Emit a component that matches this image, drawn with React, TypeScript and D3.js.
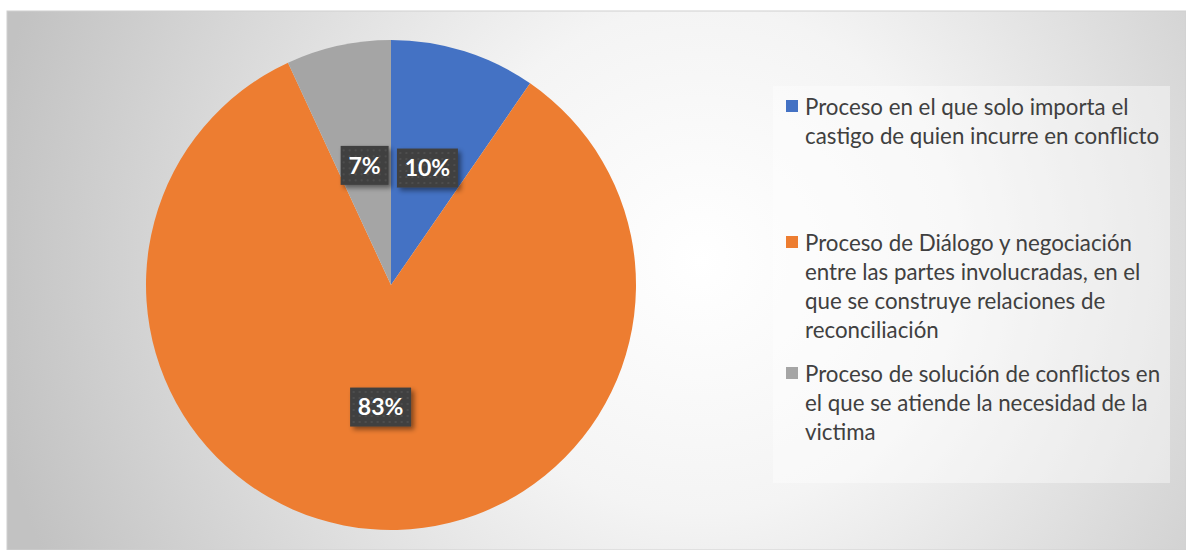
import React from "react"
import * as d3 from "d3"

const categories = [
  "Proceso en el que solo importa el castigo de quien incurre en conflicto",
  "Proceso de Diálogo y negociación entre las partes involucradas, en el que se construye relaciones de reconciliación",
  "Proceso de solución de conflictos en el que se atiende la necesidad de la victima",
]
const values = [9.6, 83.4, 6.9]
const colors = ["#4472C4", "#ED7D31", "#A5A5A5"]
// legend lines as they wrap in the original
const legendLines = [
  ["Proceso en el que solo importa el", "castigo de quien incurre en conflicto"],
  ["Proceso de Diálogo y negociación", "entre las partes involucradas, en el", "que se construye relaciones de", "reconciliación"],
  ["Proceso de solución de conflictos en", "el que se atiende la necesidad de la", "victima"],
]
const legendTops = [107, 243, 374]

export default function App() {
  const W = 1186
  const H = 550
  const cx = 391
  const cy = 285
  const R = 245

  const total = d3.sum(values)
  const pie = d3.pie<number>().sort(null).value(d => d)
  const arcs = pie(values)
  const arc = d3.arc<d3.PieArcDatum<number>>().innerRadius(0).outerRadius(R)
  const labelArc = d3.arc<d3.PieArcDatum<number>>().innerRadius(R * 0.5).outerRadius(R * 0.5)

  const font = "Lato, 'Open Sans', sans-serif"

  return (
    <svg width={W} height={H} style={{ position: "absolute", left: 0, top: 0 }}>
      <defs>
        <radialGradient id="bg" cx="700" cy="260" r="720" gradientUnits="userSpaceOnUse">
          <stop offset="0" stopColor="#ffffff" />
          <stop offset="0.35" stopColor="#f4f4f4" />
          <stop offset="1" stopColor="#c2c2c2" />
        </radialGradient>
        <pattern id="dots" width="6" height="6" patternUnits="userSpaceOnUse">
          <rect width="6" height="6" fill="#3f3f3f" />
          <rect x="2" y="2" width="2" height="2" fill="#4e4e4e" />
        </pattern>
        <filter id="shadow" x="-30%" y="-30%" width="160%" height="160%">
          <feDropShadow dx="3" dy="3" stdDeviation="2.5" floodColor="#000" floodOpacity="0.45" />
        </filter>
      </defs>
      <rect x={7} y={11} width={W - 7} height={H - 11} fill="url(#bg)" stroke="#d0d0d0" strokeWidth={1} />

      <g transform={`translate(${cx},${cy})`}>
        {arcs.map((a, i) => (
          <path key={i} d={arc(a) || ""} fill={colors[i]} />
        ))}
        {arcs.map((a, i) => {
          const [lx, ly] = labelArc.centroid(a)
          const txt = `${Math.round((a.data / total) * 100)}%`
          const bw = txt.length * 13 + 22
          const bh = 39
          return (
            <g key={"l" + i} transform={`translate(${lx},${ly})`}>
              <rect x={-bw / 2} y={-bh / 2} width={bw} height={bh} fill="url(#dots)" filter="url(#shadow)" />
              <text
                textAnchor="middle"
                dy="0.36em"
                fill="#ffffff"
                fontFamily={font}
                fontWeight="bold"
                fontSize={23}
              >
                {txt}
              </text>
            </g>
          )
        })}
      </g>

      <rect x={773} y={86} width={397} height={397} fill="#ffffff" fillOpacity={0.4} />
      {categories.map((c, i) => (
        <g key={c}>
          <rect x={786} y={legendTops[i] - 7} width={12} height={12} fill={colors[i]} />
          {legendLines[i].map((ln, j) => (
            <text
              key={j}
              x={805}
              y={legendTops[i] + j * 29}
              dy="0.35em"
              fill="#404040"
              fontFamily={font}
              fontSize={22.3}
            >
              {ln}
            </text>
          ))}
        </g>
      ))}
    </svg>
  )
}
